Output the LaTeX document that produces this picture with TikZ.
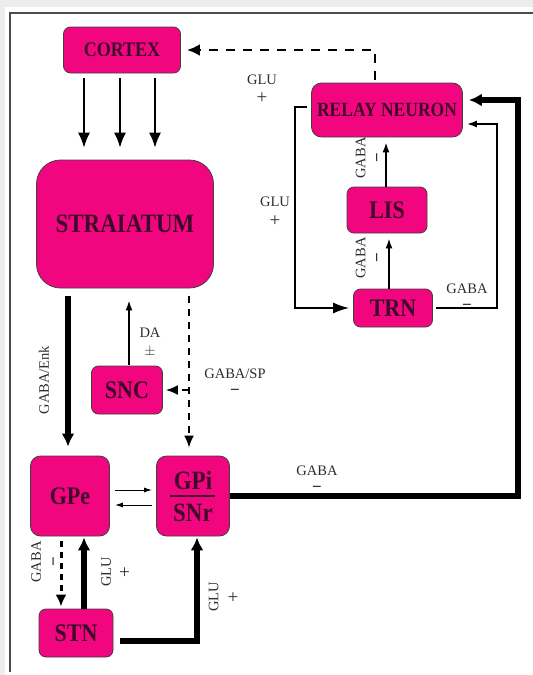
\documentclass[tikz,border=0pt]{standalone}
\usepackage{fontspec}
\setmainfont{Liberation Serif}
\usetikzlibrary{arrows.meta}
\definecolor{nucleus}{RGB}{242,6,128}
\definecolor{nucltext}{RGB}{62,8,40}
\definecolor{lbl}{RGB}{45,45,45}
\definecolor{pagegray}{RGB}{236,236,236}
\newcommand{\tallt}[1]{\scalebox{1}[1.15]{#1}}
\newcommand{\inhib}{{\fontsize{17}{15}\selectfont\bfseries −}}
\newcommand{\excit}{{\fontsize{19}{15}\selectfont +}}

\begin{document}
\begin{tikzpicture}[x=1pt, y=-1pt, >={Latex[length=10pt,width=7pt]},
    area/.style={draw=black!75, line width=0.8pt, fill=nucleus, rounded corners=7pt,
        text=nucltext, font=\bfseries\fontsize{22}{26}\selectfont, inner sep=0pt},
    tag/.style={text=lbl, font=\fontsize{14.5}{15}\selectfont, align=center, inner sep=0pt},
    thinarr/.style={line width=1.6pt},
    fat/.style={line width=5.5pt, >={Latex[length=13pt,width=13pt]}},
    dashfat/.style={line width=2.6pt, dash pattern=on 9pt off 8pt, >={Latex[length=13pt,width=12pt]}},
    dashmid/.style={line width=2pt, dash pattern=on 7pt off 6pt, >={Latex[length=12pt,width=10pt]}},
    dashgpe/.style={line width=3pt, dash pattern=on 6pt off 5pt, >={Latex[length=12pt,width=11pt]}}]
    \useasboundingbox (0,0) rectangle (533,675);
    % Page and frame
    \fill[pagegray] (0,0) rectangle (533,675);
    \fill[white] (5,7) rectangle (533,675);
    \draw[line width=2pt, black!70] (10,672) -- (10,13) -- (533,13);

    % Nuclei
    \node[area, minimum width=117pt, minimum height=46pt, font=\bfseries\fontsize{18}{20}\selectfont] (cortex) at (122,50) {\tallt{CORTEX}};
    \node[area, minimum width=177pt, minimum height=128pt, rounded corners=24pt, font=\bfseries\fontsize{23}{26}\selectfont] (stri) at (125,224) {\tallt{STRAIATUM}};
    \node[area, minimum width=151pt, minimum height=54pt, rounded corners=10pt, font=\bfseries\fontsize{17.5}{20}\selectfont] (relay) at (387,110) {\tallt{RELAY NEURON}};
    \node[area, minimum width=80pt, minimum height=46pt] (lis) at (387,210) {\tallt{LIS}};
    \node[area, minimum width=79pt, minimum height=38pt] (trn) at (393,308) {\tallt{TRN}};
    \node[area, minimum width=71pt, minimum height=48pt] (snc) at (127,390) {\tallt{SNC}};
    \node[area, minimum width=79pt, minimum height=80pt, rounded corners=10pt] (gpe) at (70,496) {\tallt{GPe}};
    \node[area, minimum width=73pt, minimum height=80pt, rounded corners=10pt, align=center, font=\bfseries\fontsize{23}{25}\selectfont] (gpi) at (193,496) {\tallt{GPi}\\[7pt]\tallt{SNr}};
    \node[area, minimum width=74pt, minimum height=48pt] (stn) at (76,633) {\tallt{STN}};
    \draw[line width=1.2pt, nucltext] ([xshift=-23pt]gpi.center) -- ([xshift=22pt]gpi.center);

    % Cortex to striatum, thalamus back to cortex
    \foreach \dx in {-38,-2,33}
        \draw[->, thinarr, >={Latex[length=15pt,width=12pt]}, shorten <=5pt, shorten >=12pt]
            ([xshift=\dx pt]cortex.south) -- ([xshift=\dx pt]cortex.south |- stri.north);
    \draw[->, dashfat, shorten <=3pt, shorten >=6pt] ([xshift=-12pt]relay.north) |- (cortex.east);

    % Thalamic loops
    \draw[->, thinarr, >={Latex[length=16pt,width=11pt]}, shorten <=4pt, shorten >=4pt] ([yshift=3pt]relay.west) -- ++(-16,0) |- (trn.west);
    \draw[->, thinarr, shorten >=5pt] ([xshift=-4pt]trn.north) -- ([xshift=-4pt]trn.north |- lis.south);
    \draw[->, thinarr, shorten >=5pt] ([xshift=-1pt]lis.north) -- ([xshift=-1pt]lis.north |- relay.south);
    \draw[->, thinarr, shorten <=3pt, shorten >=4pt] (trn.east) -- ++(64,0) |- ([yshift=-14pt]relay.east);

    % Output of GPi/SNr
    \draw[->, fat, shorten >=6pt] (gpi.east) -- ++(288,0) |- ([yshift=10pt]relay.east);

    % Striatal outputs and SNC
    \draw[->, fat, shorten <=8pt, shorten >=9pt] ([xshift=-2pt]gpe.north |- stri.south) -- ([xshift=-2pt]gpe.north);
    \draw[->, dashmid, shorten <=8pt, shorten >=8pt] ([xshift=-4pt]gpi.north |- stri.south) -- ([xshift=-4pt]gpi.north);
    \draw[->, dashmid, shorten >=3pt] ([xshift=-4pt]gpi.north |- snc.east) -- (snc.east);
    \draw[->, thinarr, shorten <=1pt, shorten >=12pt] ([xshift=2pt]snc.north) -- ([xshift=2pt]snc.north |- stri.south);

    % Pallidum and STN
    \draw[->, line width=1pt, >={Latex[length=8pt,width=5pt]}, shorten <=5pt, shorten >=4pt] ([yshift=6pt]gpe.east) -- ([yshift=6pt]gpe.east -| gpi.west);
    \draw[->, line width=1pt, >={Latex[length=8pt,width=5pt]}, shorten <=4pt, shorten >=5pt] ([yshift=-9pt]gpi.west) -- ([yshift=-9pt]gpi.west -| gpe.east);
    \draw[->, dashgpe, shorten <=5pt, shorten >=2pt] ([xshift=-9pt]gpe.south) -- ([xshift=-9pt]gpe.south |- stn.north);
    \draw[->, fat, shorten >=1pt] ([xshift=8pt]stn.north) -- ([xshift=8pt]stn.north |- gpe.south);
    \draw[->, fat, shorten <=7pt, shorten >=1pt] ([yshift=-8pt]stn.east) -| ([xshift=4pt]gpi.south);

    % Transmitter labels
    \node[tag] (gluA) at (262,89) {GLU\\[4pt]\excit};
    \node[tag] (gluB) at (275,212) {GLU\\[5pt]\excit};
    \node[tag, rotate=90] (gabaA) at (369,158) {GABA\\[2pt]\inhib};
    \node[tag, rotate=90] (gabaB) at (369,258) {GABA\\[2pt]\inhib};
    \node[tag] (gabaC) at (467,297) {GABA\\[2pt]\inhib};
    \node[tag, rotate=90] (enk) at (44,380) {GABA/Enk};
    \node[tag] (da) at (150,342) {DA\\[3pt]$\pm$};
    \node[tag] (sp) at (235,382) {GABA/SP\\[2pt]\inhib};
    \node[tag] (gabaD) at (317,479) {GABA\\[2pt]\inhib};
    \node[tag, rotate=90] (gabaE) at (45,562) {GABA\\[3pt]\inhib};
    \node[tag, rotate=90] (gluC) at (116,572) {GLU\\[5pt]\excit};
    \node[tag, rotate=90] (gluD) at (224,597) {GLU\\[6pt]\excit};
\end{tikzpicture}
\end{document}
